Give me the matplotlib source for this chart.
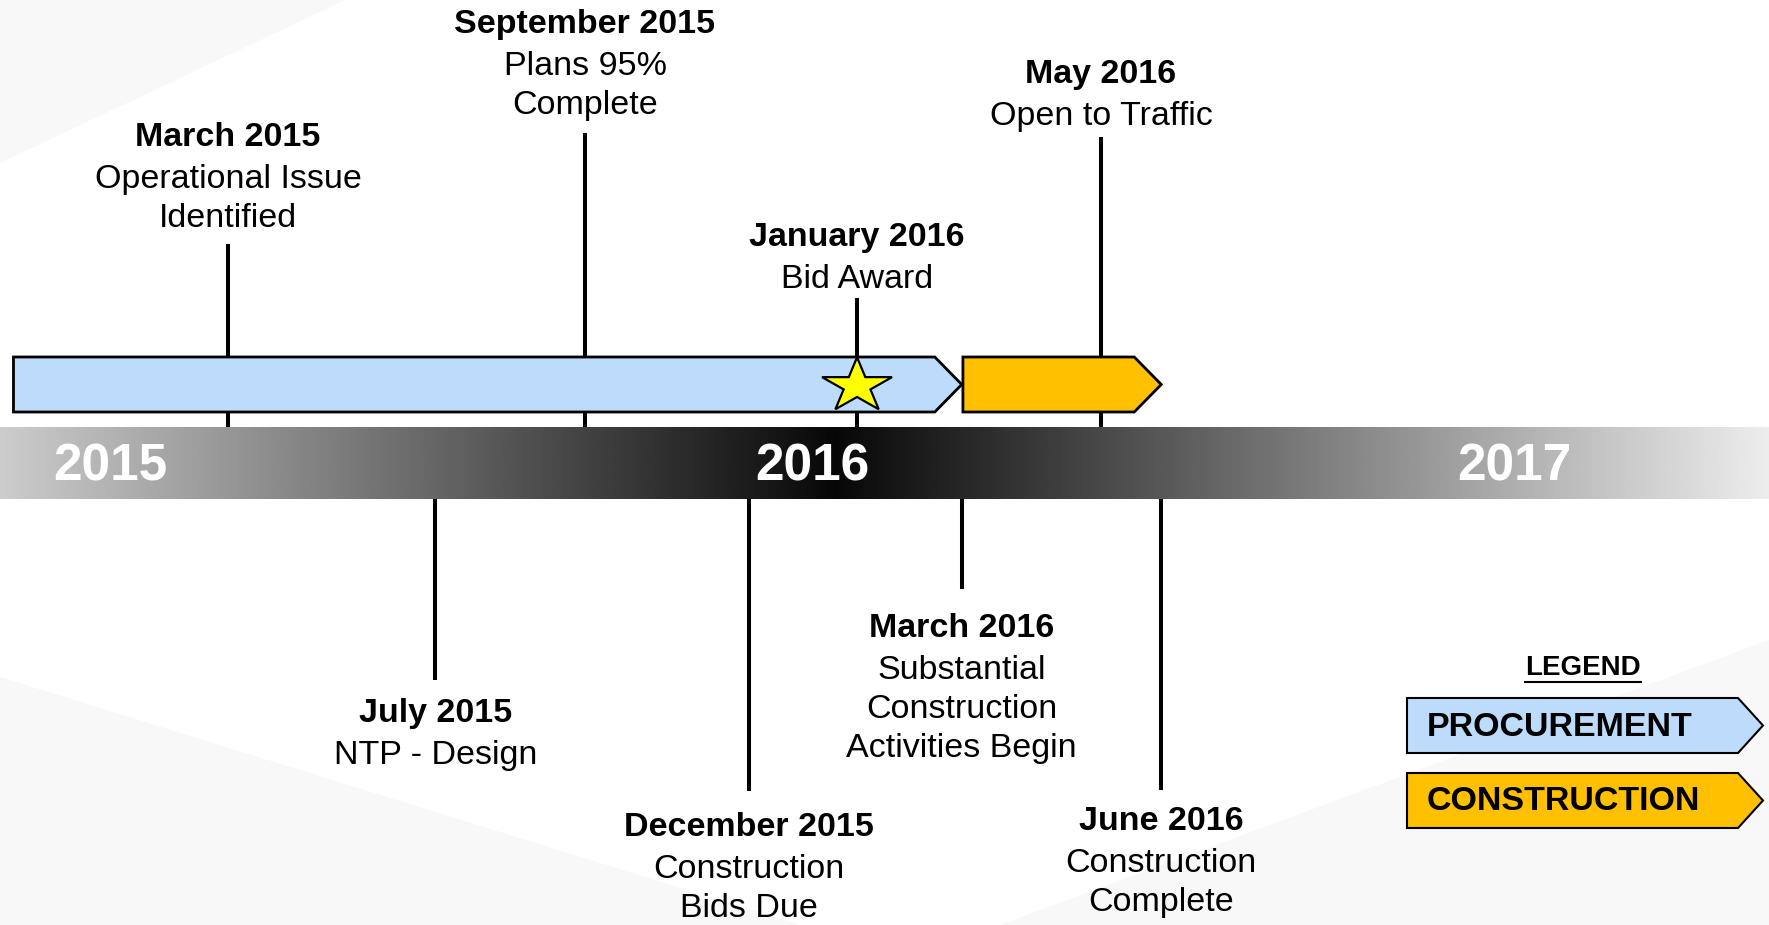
import numpy as np
import matplotlib
matplotlib.use("Agg")
import matplotlib.pyplot as plt
from matplotlib.patches import Polygon

# --- data -------------------------------------------------------------
# positions are months since 1 Jan 2015
event_dates = ["March 2015", "July 2015", "September 2015", "December 2015",
               "January 2016", "March 2016", "May 2016", "June 2016"]
event_text = [["Operational Issue", "Identified"], ["NTP - Design"],
              ["Plans 95%", "Complete"], ["Construction", "Bids Due"],
              ["Bid Award"], ["Substantial", "Construction", "Activities Begin"],
              ["Open to Traffic"], ["Construction", "Complete"]]
event_pos = [2.02, 5.56, 8.12, 10.92, 12.77, 14.56, 16.94, 17.97]
event_side = ["above", "below", "above", "below", "above", "below", "above", "below"]
milestone = "January 2016"

years = [2015, 2016, 2017]
year_pos = [0, 12, 24]

phase_names = ["PROCUREMENT", "CONSTRUCTION"]
phase_start = [-1.65, 14.58]
phase_end = [14.56, 17.97]
phase_colors = ["#BDDCFB", "#FFC000"]

# --- layout (pixels of the 1769x925 canvas) ----------------------------
W, H = 1769, 925
X0, PPM = 110.0, 58.5            # pixel of Jan 2015, pixels per month
def px(x):
    return (x - X0) / PPM

label_base = [146, 722, 33, 836, 246, 637, 83, 830]
stem_end = [244, 680, 133, 791, 298, 589, 137, 790]
BAND_TOP, BAND_BOT = 427, 499
BAR_TOP, BAR_BOT = 357, 412
DEPTH = 27 / PPM
FONT = "Liberation Sans"
FS = 24.5

fig = plt.figure(figsize=(W / 100, H / 100), dpi=100)
ax = fig.add_axes([0, 0, 1, 1])
ax.set_xlim(px(0), px(W))
ax.set_ylim(H, 0)
ax.axis("off")

# faint background swooshes
for pts in ([(0, 0), (345, 0), (0, 163)],
            [(0, 677), (0, H), (800, H)],
            [(1000, H), (W, H), (W, 640)]):
    ax.add_patch(Polygon([(px(a), b) for a, b in pts], closed=True,
                         facecolor="#f8f8f8", edgecolor="none", zorder=0))

# dark gradient band
cols = np.linspace(px(0), px(W), 600)
gray = np.interp(cols, [px(0), px(835), px(W)], [0.80, 0.03, 0.93])
img = np.repeat(gray[None, :], 2, axis=0)
ax.imshow(img, cmap="gray", vmin=0, vmax=1, aspect="auto",
          extent=(px(0), px(W), BAND_BOT, BAND_TOP), zorder=1)
for y, p in zip(years, year_pos):
    ax.text(p, (BAND_TOP + BAND_BOT) / 2 + 4, str(y), color="white", fontsize=37,
            fontweight="bold", family=FONT, ha="center", va="center", zorder=3)

def chevron(x0, x1, yt, yb, depth, color, lw, z):
    verts = [(x0, yt), (x1 - depth, yt), (x1, (yt + yb) / 2), (x1 - depth, yb), (x0, yb)]
    ax.add_patch(Polygon(verts, closed=True, facecolor=color, edgecolor="black",
                         linewidth=lw, joinstyle="miter", zorder=z))

# stems and labels
for d, txt, p, side, yb, ye in zip(event_dates, event_text, event_pos, event_side,
                                   label_base, stem_end):
    if side == "above":
        ax.plot([p, p], [ye, BAND_TOP], color="black", lw=2.9,
                solid_capstyle="butt", zorder=2)
    else:
        ax.plot([p, p], [BAND_BOT, ye], color="black", lw=2.9,
                solid_capstyle="butt", zorder=2)
    ax.text(p, yb, d, fontsize=FS, fontweight="bold", family=FONT,
            ha="center", va="baseline", zorder=5)
    for i, line in enumerate(txt):
        ax.text(p, yb + 42 + 39 * i, line, fontsize=FS, family=FONT,
                ha="center", va="baseline", zorder=5)

# phase bars
for s, e, c in zip(phase_start, phase_end, phase_colors):
    chevron(s, e, BAR_TOP, BAR_BOT, DEPTH, c, 2.0, 3)

# milestone star
sx = event_pos[event_dates.index(milestone)]
ang = np.pi / 2 + np.arange(10) * np.pi / 5
rad = np.where(np.arange(10) % 2 == 0, 1.0, 0.382)
ax.add_patch(Polygon(np.column_stack([sx + rad * np.cos(ang) * 36.8 / PPM,
                                      386 - rad * np.sin(ang) * 28.7]),
                     closed=True, facecolor="#FFFF00", edgecolor="black",
                     linewidth=1.6, zorder=4))

# legend
t = ax.text(px(1583), 675, "LEGEND", fontsize=20, fontweight="bold", family=FONT,
            ha="center", va="baseline", zorder=5)
fig.canvas.draw()
bb = t.get_window_extent().transformed(ax.transData.inverted())
ax.plot([bb.x0, bb.x1], [682, 682], color="black", lw=1.5, zorder=5)
for i, (name, c) in enumerate(zip(phase_names, phase_colors)):
    yt = 698 + 75 * i
    chevron(px(1407), px(1763), yt, yt + 55, 25 / PPM, c, 1.5, 3)
    ax.text(px(1427), yt + 29, name, fontsize=24.5, fontweight="bold", family=FONT,
            ha="left", va="center", zorder=5)

fig.savefig("out.png", dpi=100)
